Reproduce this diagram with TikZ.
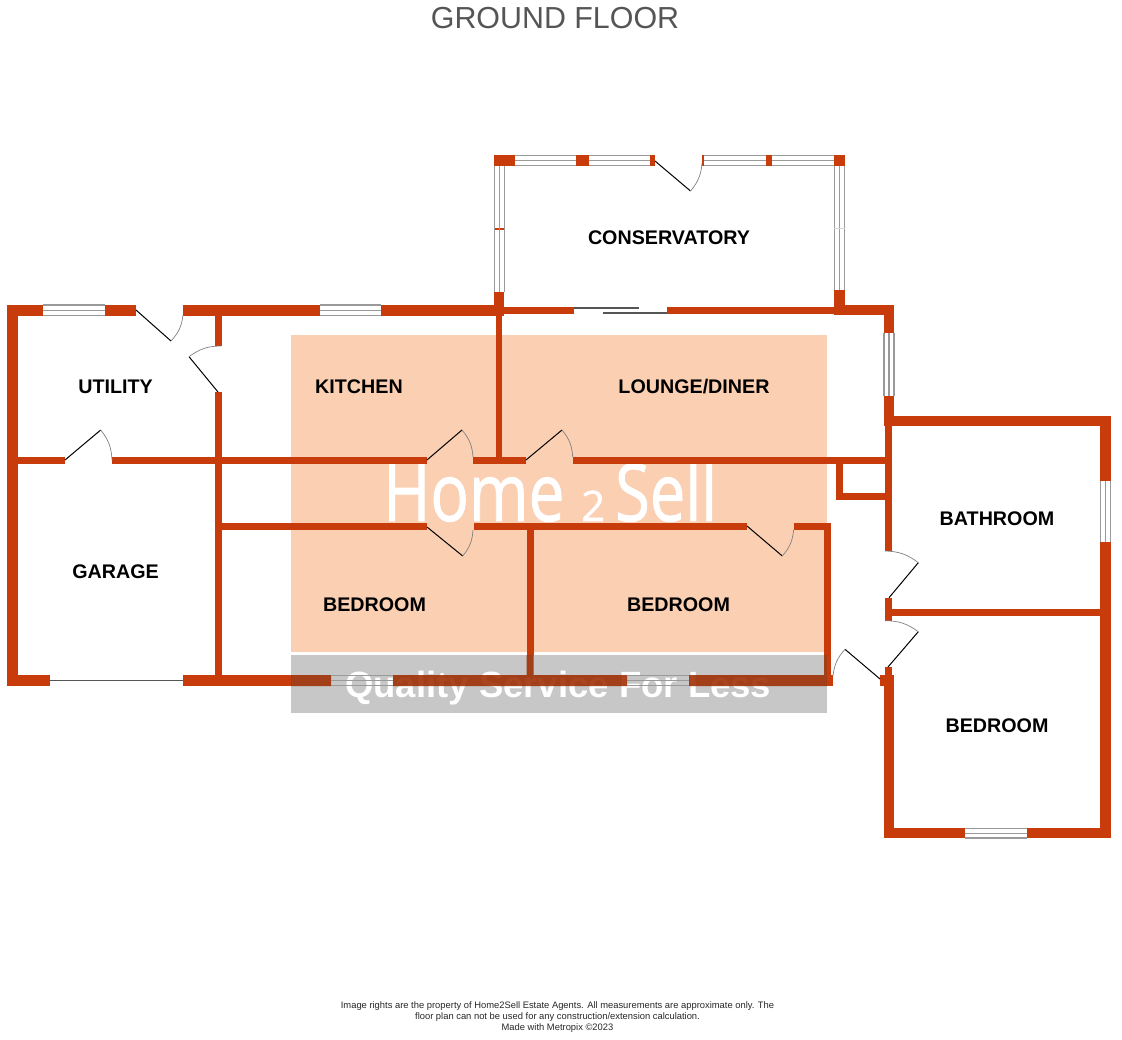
\documentclass[tikz,border=0pt]{standalone}
\usepackage{fontspec}
\setmainfont{Liberation Sans}
\newfontfamily\markfont[FakeBold=1.2]{Open Sans}
\definecolor{wallc}{HTML}{C73C0A}
\definecolor{walldark}{HTML}{9E2C00}
\definecolor{peach}{HTML}{FBCFB2}
\definecolor{markgray}{HTML}{C7C7C7}
\definecolor{wingray}{HTML}{9A9A9A}
\definecolor{titlegray}{HTML}{555555}
\tikzset{
  roomlabel/.style={font=\bfseries\fontsize{19.7}{24}\selectfont,text=black,inner sep=0pt},
  leaf/.style={draw=black,line width=1pt},
  swing/.style={draw=gray,line width=.7pt},
  winline/.style={draw=wingray,line width=1.1pt},
  marktext/.style={text=white,inner sep=0pt,transform shape},
}
\newcommand{\wl}[4]{\fill (#1,#2) rectangle (#3,#4);}
\newcommand{\winh}[4]{%
  \draw[winline] (#1,#3) -- (#2,#3) (#1,{(#3+#4)/2}) -- (#2,{(#3+#4)/2}) (#1,#4) -- (#2,#4);}
\newcommand{\winv}[4]{%
  \draw[winline] (#1,#3) -- (#1,#4) ({(#1+#2)/2},#3) -- ({(#1+#2)/2},#4) (#2,#3) -- (#2,#4);}
% hinge x,y ; tip x,y ; end x,y ; bend direction
\newcommand{\door}[7]{%
  \draw[leaf] (#1,#2) -- (#3,#4);
  \draw[swing] (#3,#4) to[bend #7=18] (#5,#6);}
\begin{document}
\begin{tikzpicture}[x=1pt,y=-1pt]
\useasboundingbox (0,0) rectangle (1122,1040);
% watermark, below the plan
\fill[peach] (291,335) rectangle (827,652);
\fill[markgray] (291,655) rectangle (827,713);
\node[marktext,anchor=base west,xscale=.8] (markhome) at (383,521) {\markfont\fontsize{80}{80}\selectfont Home};
\node[marktext,anchor=base west] (marktwo) at (581,521) {\markfont\fontsize{42}{42}\selectfont 2};
\node[marktext,anchor=base west,xscale=.79] (marksell) at (615,521) {\markfont\fontsize{80}{80}\selectfont Sell};
\node[marktext,anchor=base west] (markq) at (345,697) {\bfseries\fontsize{36.5}{37}\selectfont Quality Service For Less};
% walls
\newcommand{\allwalls}{%
  \wl{7}{305}{43}{316}\wl{105}{305}{136}{316}\wl{183}{305}{320}{316}\wl{381}{305}{494}{316}
  \wl{7}{305}{18}{686}\wl{7}{675}{50}{686}\wl{183}{675}{331}{686}\wl{393}{675}{627}{686}\wl{689}{675}{833}{686}
  \wl{215}{315}{222}{346}\wl{215}{392}{222}{676}
  \wl{18}{457}{65}{464}\wl{112}{457}{427}{464}\wl{473}{457}{526}{464}\wl{573}{457}{886}{464}
  \wl{494}{292}{504}{316}\wl{495.7}{315}{502.3}{457}
  \wl{504}{306.7}{574.3}{314}\wl{667}{306.7}{834}{314}\wl{834}{290}{845}{315}\wl{845}{305}{894}{315}
  \wl{883.5}{305}{894}{333}\wl{883.5}{396}{894}{426}\wl{884}{416}{1111}{426}
  \wl{1100}{416}{1111}{481}\wl{1100}{542}{1111}{838}
  \wl{885.3}{426}{891.7}{551}\wl{835.7}{463}{842.7}{500}\wl{836}{493}{886}{500}
  \wl{222}{523.3}{427}{530}\wl{474}{523.3}{747}{530}\wl{793.5}{523.3}{831}{530}
  \wl{526.7}{530}{533.7}{676}\wl{824}{523.3}{831}{680}
  \wl{884.7}{597.7}{892}{620.7}\wl{892}{609.3}{1100}{616.3}
  \wl{880}{675}{894}{686}\wl{885}{667}{892}{675}\wl{884}{686}{894}{838}
  \wl{884}{828}{965}{838}\wl{1027}{828}{1111}{838}
  \wl{494}{155.5}{515}{166}\wl{576.3}{155.5}{588.7}{166}\wl{650}{155.5}{655}{166}\wl{702}{155.5}{704}{166}
  \wl{766}{155.5}{772}{166}\wl{834}{155.5}{845}{166}
  \wl{494}{228}{504.7}{230}}
\begin{scope}
\clip (0,0) rectangle (1122,655) (0,655) rectangle (291,1040) (827,655) rectangle (1122,1040) (0,713) rectangle (1122,1040);
\begin{scope}[fill=wallc]
\allwalls
\end{scope}
\end{scope}
\begin{scope}
\clip (291,655) rectangle (827,713);
\fill[walldark,fill opacity=.88] (291,675) rectangle (331,686) (393,675) rectangle (627,686) (689,675) rectangle (827,686)
  (526.7,655) rectangle (533.7,675) (824,655) rectangle (827,675);
\end{scope}
\fill[wallc] (827,655) rectangle (831,686);
% windows
\winh{515}{576}{155.8}{165.8}\winh{589}{650}{155.8}{165.8}\winh{704}{766}{155.8}{165.8}\winh{772}{834}{155.8}{165.8}
\winv{494.5}{504.5}{166}{292}\winv{834.5}{844.5}{166}{290}
\draw[wingray!40,line width=.8pt] (834,228) -- (845,228);
\winh{43}{105}{305}{315.5}\winh{320}{381}{305}{315.5}
\winv{884}{894}{333}{396}\winv{1100.5}{1110.5}{481}{542}
\winh{965}{1027}{828.5}{838}
\winh{331}{393}{675.5}{685.5}\winh{627}{689}{675.5}{685.5}
% sliding doors and garage door
\draw[draw=titlegray,line width=1.1pt] (574,308) -- (639,308) (603,313) -- (667,313);
\draw[draw=titlegray,line width=1.1pt] (50,680.5) -- (183,680.5);
% doors
\door{655}{161}{690.5}{191}{702}{163}{right}
\door{136}{310}{171}{341}{183}{315}{right}
\door{218}{392}{189}{356.7}{221}{346}{left}
\door{65}{460}{100.7}{430}{112}{460}{left}
\door{427}{460}{462}{430}{473}{457}{left}
\door{526}{460}{562}{430}{572.7}{457}{left}
\door{427}{527}{462.7}{556}{473}{530}{right}
\door{747}{526}{782.3}{556}{793.6}{530}{right}
\door{880}{679}{845}{649.3}{833}{676}{right}
\door{889}{597.7}{918.3}{562.7}{885}{551}{right}
\door{888}{667}{918.3}{631.7}{885}{620.7}{right}
% labels
\node[roomlabel] (conservatory) at (669,237.5) {CONSERVATORY};
\node[roomlabel] (utility) at (115.5,387) {UTILITY};
\node[roomlabel] (kitchen) at (359,387) {KITCHEN};
\node[roomlabel] (lounge) at (694,387) {LOUNGE/DINER};
\node[roomlabel] (garage) at (115.5,572) {GARAGE};
\node[roomlabel] (bedrooma) at (374.5,605) {BEDROOM};
\node[roomlabel] (bedroomb) at (678.5,605) {BEDROOM};
\node[roomlabel] (bathroom) at (997,519) {BATHROOM};
\node[roomlabel] (bedroomc) at (997,726) {BEDROOM};
\node[text=titlegray,inner sep=0pt,font=\fontsize{30.4}{36}\selectfont] (title) at (555,18) {GROUND FLOOR};
\node[text=black!85,inner sep=0pt,align=center,font=\fontsize{9.38}{10.6}\selectfont] (footer) at (557.5,1017)
  {Image rights are the property of Home2Sell Estate Agents. All measurements are approximate only. The\\
   floor plan can not be used for any construction/extension calculation.\\
   Made with Metropix \textcopyright 2023};
\end{tikzpicture}
\end{document}
